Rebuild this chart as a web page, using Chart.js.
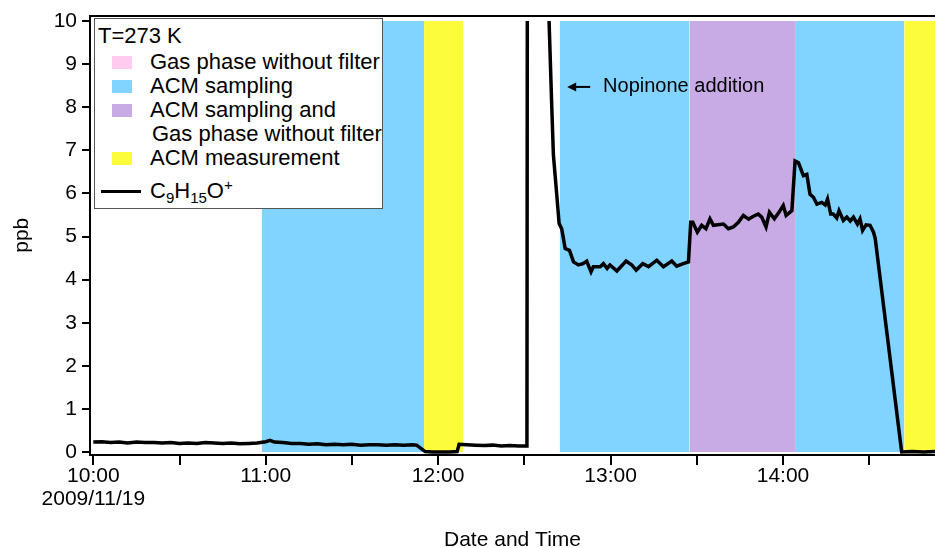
<!DOCTYPE html>
<html>
<head>
<meta charset="utf-8">
<script src="https://cdn.jsdelivr.net/npm/chart.js@4"></script>
<style>
  html, body { margin: 0; padding: 0; background: #fff; }
  #wrap { position: relative; width: 935px; height: 548px; overflow: hidden; font-family: "Liberation Sans", Arial, sans-serif; }
  #c { position: absolute; left: 0; top: 0; }
  #legend { position: absolute; left: 94px; top: 18px; width: 289px; height: 191px; background: #fff; border: 1px solid #555; box-sizing: border-box; }
  .lt { position: absolute; font-size: 22px; line-height: 24px; color: #000; white-space: nowrap; }
  .sw { position: absolute; width: 20px; height: 13px; }
  .ln { position: absolute; height: 3px; background: #000; }
  sub, sup { font-size: 15px; line-height: 0; }
</style>
</head>
<body>
<div id="wrap">
  <canvas id="c" width="935" height="548"></canvas>
  <div id="legend"></div>
</div>
<script>
// ---- data (x = minutes after 10:00 on 2009/11/19) ----
const timeMin = [0,3,6,9,12,15,18,21,24,27,30,33,36,39,42,45,48,51,54,57,60,61.5,63,66,69,72,75,78,81,84,87,90,93,96,99,102,105,108,111,112.5,115.5,118,121,124,126.6,127.3,130,133,136,139,142,145,148,150.9,151.4,157.2,158.0,158.6,159.5,160.1,161.3,162.1,163.0,164.2,165.7,167.1,168.8,170.4,171.7,173.2,174.0,176.4,177.5,178.8,179.8,182.2,185.4,187.4,188.9,191.2,193.2,196.1,198.4,201.3,203.0,205.3,207.1,207.9,208.6,210.2,211.7,213.2,214.6,215.8,219.3,221.0,222.7,224.5,226.2,228.0,229.7,231.4,232.6,234.1,235.3,237.0,238.6,240.1,241.1,243.1,244.2,245.4,247.1,248.3,249.4,250.6,251.8,253.5,254.7,255.5,256.6,257.5,258.7,259.5,261.0,262.2,263.4,264.5,265.9,266.8,267.7,268.9,270.3,271.5,272.1,281.3,285,289,293];
const ppbValues = [0.23,0.24,0.22,0.23,0.21,0.23,0.22,0.22,0.21,0.22,0.20,0.21,0.20,0.22,0.21,0.20,0.21,0.19,0.20,0.21,0.24,0.27,0.23,0.22,0.20,0.20,0.18,0.19,0.17,0.18,0.17,0.18,0.16,0.17,0.17,0.16,0.17,0.16,0.17,0.16,0.01,0.00,0.00,0.00,0.01,0.18,0.17,0.16,0.15,0.16,0.14,0.15,0.14,0.14,40,25,12,10.0,8.1,6.9,5.95,5.3,5.18,4.72,4.68,4.41,4.34,4.37,4.43,4.18,4.3,4.3,4.37,4.26,4.34,4.2,4.43,4.34,4.22,4.37,4.3,4.45,4.3,4.43,4.31,4.37,4.41,5.33,5.33,5.1,5.26,5.18,5.41,5.26,5.29,5.18,5.22,5.33,5.49,5.4,5.47,5.52,5.45,5.22,5.56,5.41,5.56,5.72,5.49,5.6,6.75,6.71,6.41,6.44,5.98,5.91,5.75,5.79,5.73,5.87,5.52,5.52,5.43,5.6,5.37,5.45,5.36,5.45,5.29,5.41,5.14,5.27,5.26,5.1,4.95,0.0,0.01,0.0,0.01];

// shaded periods (minutes after 10:00)
const periodStart = [58.6, 115.1, 162.3, 207.5, 244.5, 282.2];
const periodEnd   = [115.1, 128.7, 207.5, 244.5, 282.2, 300];
const periodKind  = ["ACM sampling", "ACM measurement", "ACM sampling", "ACM sampling and Gas phase without filter", "ACM sampling", "ACM measurement"];

const kindColors = {
  "Gas phase without filter": "#FFCCF0",
  "ACM sampling": "#80D4FF",
  "ACM sampling and Gas phase without filter": "#C8AAE4",
  "ACM measurement": "#FCFC3C"
};

const yTickValues = [0,1,2,3,4,5,6,7,8,9,10];
const xTickValues = [0,30,60,90,120,150,180,210,240,270];
const xTickLabels = [["10:00","2009/11/19"],["",""],["11:00",""],["",""],["12:00",""],["",""],["13:00",""],["",""],["14:00",""],["",""]];

const seriesName = "C9H15O+";
const tempLabel = "T=273 K";
const annotationText = "Nopinone addition";

// ---- build chart ----
const FONT = '"Liberation Sans", Arial, sans-serif';
const datasets = [{
  label: seriesName,
  data: timeMin.map((t, i) => ({x: t, y: ppbValues[i]})),
  borderColor: "#000",
  borderWidth: 3.5,
  pointRadius: 0,
  fill: false,
  tension: 0,
  order: 0,
  clip: {left: 2, top: -5.5, right: 2, bottom: 4}
}];
periodStart.forEach((s, i) => {
  datasets.push({
    label: periodKind[i],
    data: [{x: s, y: 10}, {x: periodEnd[i], y: 10}],
    borderWidth: 0,
    pointRadius: 0,
    backgroundColor: kindColors[periodKind[i]],
    fill: "origin",
    order: 1
  });
});

const annotationPlugin = {
  id: "annot",
  afterDatasetsDraw(chart) {
    const {ctx, scales: {x, y}} = chart;
    const yy = y.getPixelForValue(8.47);
    const tip = x.getPixelForValue(164.9);
    const tail = x.getPixelForValue(172.9);
    ctx.save();
    ctx.strokeStyle = "#000";
    ctx.fillStyle = "#000";
    ctx.lineWidth = 2;
    ctx.beginPath();
    ctx.moveTo(tip + 6, yy);
    ctx.lineTo(tail, yy);
    ctx.stroke();
    ctx.beginPath();
    ctx.moveTo(tip, yy);
    ctx.lineTo(tip + 9, yy - 4.5);
    ctx.lineTo(tip + 9, yy + 4.5);
    ctx.closePath();
    ctx.fill();
    ctx.font = "20px " + FONT;
    ctx.textBaseline = "middle";
    ctx.textAlign = "left";
    ctx.fillText(annotationText, x.getPixelForValue(177.4), yy);
    ctx.restore();
  }
};

new Chart(document.getElementById("c"), {
  type: "line",
  data: {datasets},
  plugins: [annotationPlugin],
  options: {
    responsive: false,
    animation: false,
    devicePixelRatio: 1,
    layout: {padding: {left: 0, right: 0, top: -2, bottom: 0}},
    plugins: {legend: {display: false}, tooltip: {enabled: false}},
    scales: {
      x: {
        type: "linear",
        position: "bottom",
        min: -1.15,
        max: 292.9,
        afterBuildTicks: s => { s.ticks = xTickValues.map(v => ({value: v})); },
        afterFit: s => { s.height = 93; },
        ticks: {
          autoSkip: false,
          maxRotation: 0,
          minRotation: 0,
          padding: -1,
          color: "#000",
          font: {family: FONT, size: 21, lineHeight: 1.12},
          callback: (v) => { const i = xTickValues.indexOf(v); return i >= 0 ? xTickLabels[i] : ""; }
        },
        grid: {drawOnChartArea: false, color: "#000", lineWidth: 2, tickLength: 10},
        border: {display: true, color: "#000", width: 2},
        title: {display: true, text: "Date and Time", color: "#000", font: {family: FONT, size: 21, lineHeight: 1}, padding: {top: 0, bottom: -3}}
      },
      xTop: {
        type: "linear",
        position: "top",
        min: -1.15,
        max: 292.9,
        afterFit: s => { s.height = 6; },
        ticks: {display: false},
        grid: {display: false},
        border: {display: true, color: "#000", width: 2}
      },
      y: {
        type: "linear",
        min: -0.069,
        max: 10.127,
        afterBuildTicks: s => { s.ticks = yTickValues.map(v => ({value: v})); },
        afterFit: s => { s.width = 90; },
        ticks: {color: "#000", padding: 5, font: {family: FONT, size: 21, lineHeight: 1}},
        grid: {drawOnChartArea: false, color: "#000", lineWidth: 2, tickLength: 8},
        border: {display: true, color: "#000", width: 2},
        title: {display: true, text: "ppb", color: "#000", font: {family: FONT, size: 21, lineHeight: 1}, padding: {top: 12, bottom: 0}}
      }
    }
  }
});

// ---- legend (HTML, positioned inside the box) ----
const legend = document.getElementById("legend");
function addText(html, left, centerY) {
  const d = document.createElement("div");
  d.className = "lt";
  d.style.left = left + "px";
  d.style.top = (centerY - 12) + "px";
  d.innerHTML = html;
  legend.appendChild(d);
}
function addSwatch(color, left, centerY) {
  const d = document.createElement("div");
  d.className = "sw";
  d.style.left = left + "px";
  d.style.top = (centerY - 6.5) + "px";
  d.style.background = color;
  legend.appendChild(d);
}
// coordinates relative to legend box (box at 94,18)
addText(tempLabel, 3, 17);
const legendKinds = ["Gas phase without filter", "ACM sampling", "ACM sampling and Gas phase without filter", "ACM measurement"];
const rowY = [43, 67, 91, 139];
legendKinds.forEach((k, i) => {
  addSwatch(kindColors[k], 16.5, rowY[i] + 0.5);
  if (k === "ACM sampling and Gas phase without filter") {
    addText("ACM sampling and", 55, rowY[i]);
    addText("Gas phase without filter", 57, rowY[i] + 24);
  } else {
    addText(k, 55, rowY[i]);
  }
});
const ln = document.createElement("div");
ln.className = "ln";
ln.style.left = "6px"; ln.style.width = "40px"; ln.style.top = "171px";
legend.appendChild(ln);
addText("C<sub>9</sub>H<sub>15</sub>O<sup>+</sup>", 55, 172);
</script>
</body>
</html>
